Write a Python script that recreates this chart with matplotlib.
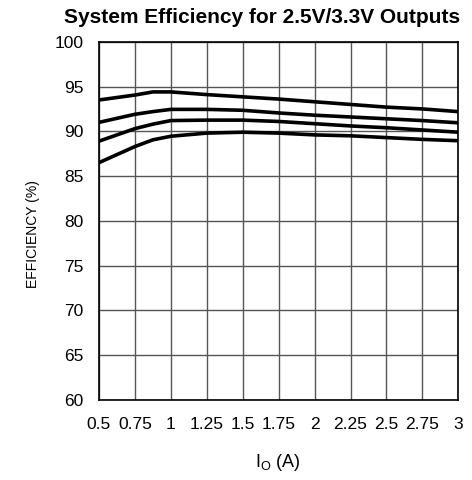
import matplotlib
matplotlib.use("Agg")
import matplotlib.pyplot as plt

plt.rcParams['font.family'] = ['Liberation Sans', 'DejaVu Sans']
plt.rcParams['mathtext.fontset'] = 'custom'
plt.rcParams['mathtext.rm'] = 'Liberation Sans'
plt.rcParams['mathtext.it'] = 'Liberation Sans'

current = [0.5, 0.75, 0.875, 1.0, 1.25, 1.5, 1.75, 2.0, 2.25, 2.5, 2.75, 3.0]
eff_a = [93.5, 94.05, 94.4, 94.4, 94.1, 93.85, 93.6, 93.3, 93.0, 92.7, 92.5, 92.2]
eff_b = [91.0, 91.9, 92.2, 92.45, 92.45, 92.35, 92.05, 91.8, 91.6, 91.4, 91.2, 90.95]
eff_c = [88.9, 90.3, 90.8, 91.2, 91.25, 91.25, 91.1, 90.85, 90.6, 90.4, 90.15, 89.9]
eff_d = [86.5, 88.3, 89.05, 89.45, 89.8, 89.9, 89.8, 89.6, 89.5, 89.3, 89.1, 88.95]
x_ticks = [0.5, 0.75, 1, 1.25, 1.5, 1.75, 2, 2.25, 2.5, 2.75, 3]
x_tick_labels = ['0.5', '0.75', '1', '1.25', '1.5', '1.75', '2', '2.25', '2.5', '2.75', '3']
y_ticks = [60, 65, 70, 75, 80, 85, 90, 95, 100]

fig = plt.figure(figsize=(4.72, 4.80), dpi=100)
ax = fig.add_axes([0.2097, 0.1667, 0.7613, 0.7463])

for s in (eff_a, eff_b, eff_c, eff_d):
    ax.plot(current, s, color='black', lw=2.6, solid_capstyle='butt', zorder=3)

ax.set_xlim(0.5, 3.0)
ax.set_ylim(60, 100)
ax.set_xticks(x_ticks)
ax.set_xticklabels(x_tick_labels)
ax.set_yticks(y_ticks)
ax.grid(True, color='#555555', lw=1.0)
ax.tick_params(length=0, labelsize=12.5)
ax.tick_params(axis='y', pad=11)
ax.tick_params(axis='x', pad=12)
for sp in ax.spines.values():
    sp.set_linewidth(1.2)
    sp.set_color('black')

fig.text(0.555, 0.952, 'System Efficiency for 2.5V/3.3V Outputs', ha='center', va='baseline',
         fontsize=15, fontweight='bold')
fig.text(0.07, 0.512, 'EFFICIENCY (%)', rotation=90, ha='center', va='center', fontsize=10)
fig.text(0.589, 0.037, r'I$_\mathrm{O}$ (A)', ha='center', va='center', fontsize=13)

fig.savefig('out.png', dpi=100)
